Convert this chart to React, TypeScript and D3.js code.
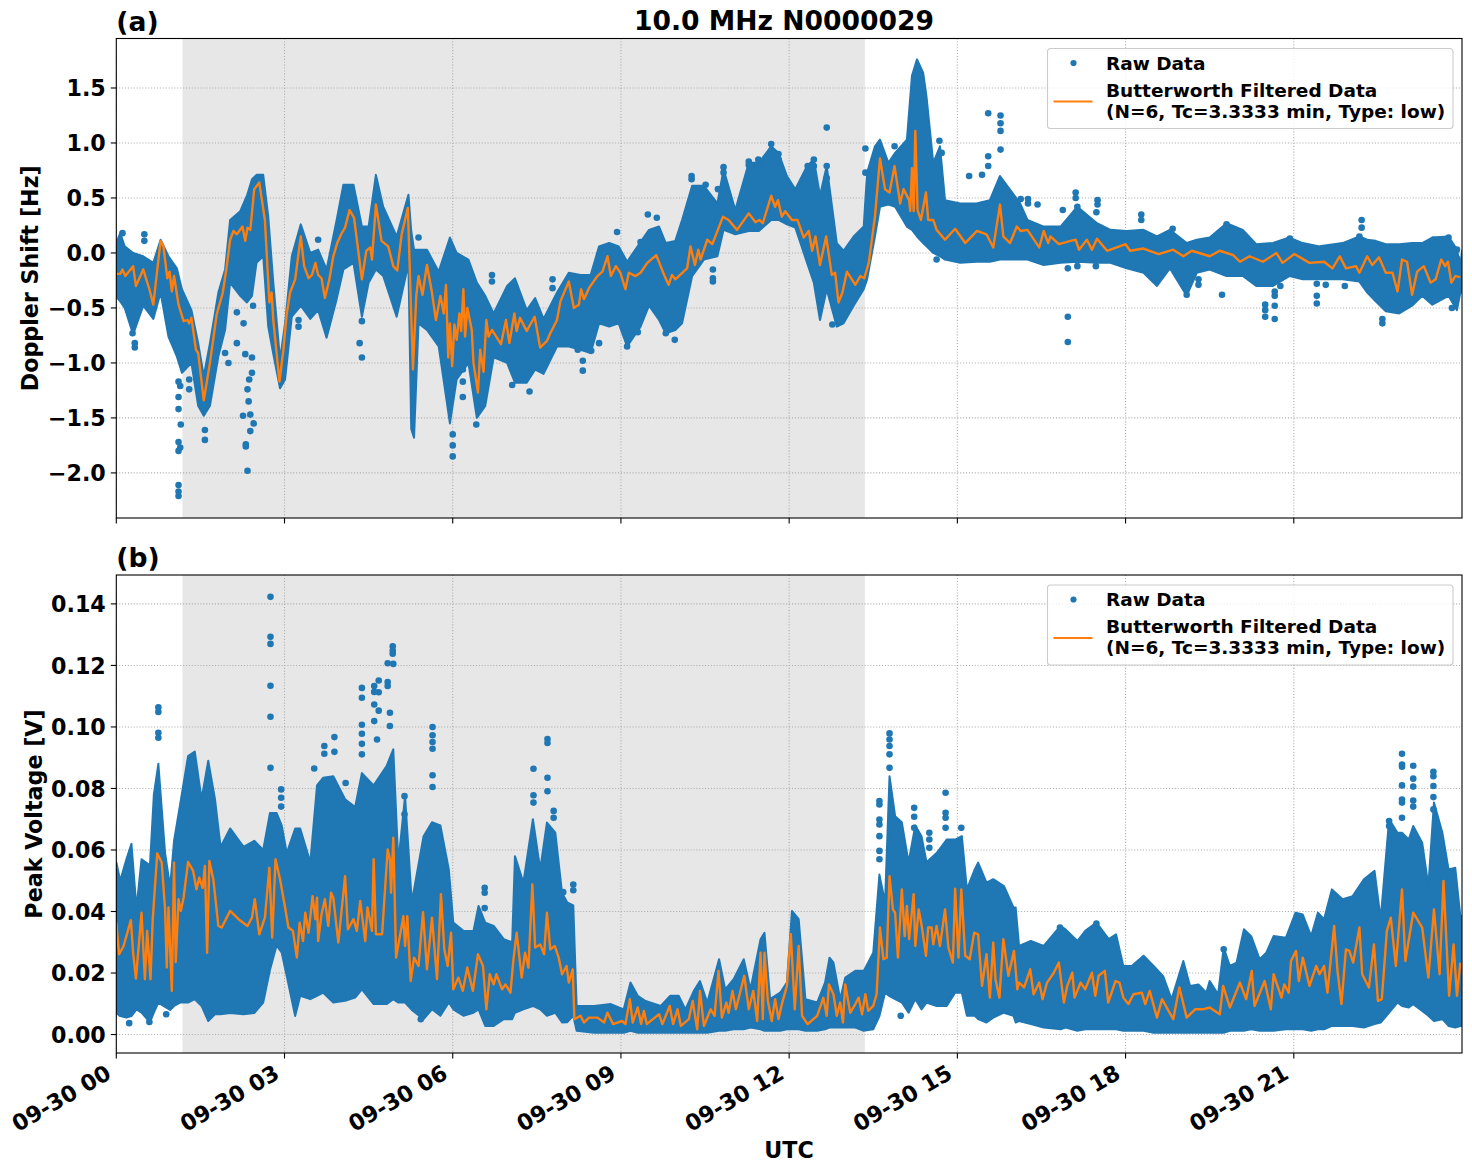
import React, { useEffect, useRef } from 'react';
import * as d3 from 'd3';

// hours since 09-30 00 UTC
const hourTicks = [0, 3, 6, 9, 12, 15, 18, 21];
const hourLabels = ['09-30 00', '09-30 03', '09-30 06', '09-30 09', '09-30 12', '09-30 15', '09-30 18', '09-30 21'];
const shadedHours = [1.18, 13.35];

const dopplerTicks = [-2, -1.5, -1, -0.5, 0, 0.5, 1, 1.5];
const voltageTicks = [0, 0.02, 0.04, 0.06, 0.08, 0.1, 0.12, 0.14];

// raw data envelope: [hour, low, high]
const dopplerBand: [number, number, number][] = [
  [0, -0.4, 0.09], [0.07, -0.44, 0.18], [0.15, -0.5, 0.06], [0.3, -0.74, 0], [0.48, -0.48, -0.03], [0.66, -0.6, -0.09],
  [0.79, -0.36, 0.12], [0.93, -0.76, -0.03], [1.08, -0.94, -0.14], [1.17, -1.09, -0.33], [1.34, -1, -0.52], [1.46, -1.39, -0.82],
  [1.56, -1.48, -1.12], [1.67, -1.39, -0.82], [1.82, -0.94, -0.36], [1.94, -0.7, -0.15], [2.03, -0.27, 0.3], [2.21, -0.39, 0.38],
  [2.33, -0.45, 0.52], [2.42, -0.39, 0.67], [2.5, -0.09, 0.71], [2.62, -0.03, 0.71], [2.71, -0.67, 0.33], [2.8, -0.92, -0.27],
  [2.92, -1.23, -0.97], [3.01, -1.15, -0.64], [3.13, -0.58, -0.03], [3.29, -0.48, 0.26], [3.46, -0.6, 0], [3.6, -0.52, 0.03],
  [3.75, -0.77, -0.15], [3.93, -0.42, 0.3], [4.05, -0.15, 0.62], [4.23, -0.09, 0.62], [4.38, -0.58, 0.24], [4.5, -0.27, 0.24],
  [4.63, -0.15, 0.71], [4.76, -0.21, 0.42], [5, -0.58, 0.15], [5.21, -0.1, 0.53], [5.26, -1.6, 0.2], [5.31, -1.68, 0.03], [5.39, -0.64, 0.03],
  [5.54, -0.7, 0.03], [5.75, -0.85, -0.17], [5.95, -1.55, 0.14], [6.07, -1.15, 0], [6.28, -1, -0.06], [6.43, -1.5, -0.27],
  [6.58, -1.39, -0.39], [6.73, -0.95, -0.55], [6.97, -1, -0.3], [7.11, -1.18, -0.23], [7.32, -1.18, -0.52], [7.47, -1.06, -0.41],
  [7.62, -1.1, -0.6], [7.86, -0.85, -0.36], [8.07, -0.85, -0.18], [8.28, -0.88, -0.2], [8.46, -0.91, -0.2], [8.61, -0.64, 0.06],
  [8.79, -0.67, 0.09], [8.96, -0.64, 0.06], [9.11, -0.85, -0.08], [9.35, -0.67, 0.1], [9.5, -0.48, 0.21], [9.68, -0.61, 0.24],
  [9.8, -0.73, 0.09], [9.97, -0.7, 0.11], [10.09, -0.64, 0.3], [10.27, -0.21, 0.61], [10.48, -0.06, 0.61], [10.72, -0.03, 0.45],
  [10.83, 0.21, 0.76], [11.04, 0.17, 0.39], [11.28, 0.2, 0.82], [11.46, 0.2, 0.82], [11.68, 0.3, 0.97], [11.81, 0.3, 0.91],
  [11.96, 0.26, 0.7], [12.11, 0.23, 0.58], [12.32, -0.09, 0.79], [12.44, -0.27, 0.85], [12.55, -0.61, 0.52], [12.67, -0.33, 0.79],
  [12.85, -0.67, 0.09], [12.97, -0.64, 0.02], [13.15, -0.48, 0.15], [13.33, -0.33, 0.24], [13.39, -0.24, 0.73], [13.53, 0.15, 0.97],
  [13.62, 0.42, 1.03], [13.77, 0.44, 0.82], [13.89, 0.42, 0.91], [14.1, 0.24, 1.03], [14.19, 0.21, 1.61], [14.28, 0.15, 1.76],
  [14.39, 0.09, 1.64], [14.45, 0.06, 1.42], [14.57, 0, 0.82], [14.69, -0.03, 0.97], [14.78, -0.06, 0.48], [15.05, -0.09, 0.45],
  [15.34, -0.08, 0.45], [15.58, -0.08, 0.48], [15.76, -0.06, 0.7], [16.12, -0.06, 0.45], [16.25, -0.06, 0.3], [16.54, -0.11, 0.24],
  [16.84, -0.09, 0.24], [17.14, -0.08, 0.42], [17.49, -0.09, 0.27], [17.73, -0.09, 0.21], [18.02, -0.14, 0.2], [18.32, -0.18, 0.21],
  [18.56, -0.3, 0.15], [18.79, -0.14, 0.21], [19.09, -0.39, 0.09], [19.27, -0.18, 0.12], [19.5, -0.15, 0.14], [19.8, -0.21, 0.27],
  [20.09, -0.21, 0.21], [20.33, -0.3, 0.08], [20.63, -0.3, 0.09], [20.92, -0.21, 0.14], [21.16, -0.24, 0.09], [21.46, -0.24, 0.06],
  [21.87, -0.24, 0.09], [22.17, -0.26, 0.15], [22.31, -0.36, 0.12], [22.46, -0.44, 0.11], [22.64, -0.53, 0.08], [22.88, -0.55, 0.08],
  [23.11, -0.48, 0.09], [23.29, -0.39, 0.09], [23.47, -0.47, 0.14], [23.76, -0.39, 0.15], [23.91, -0.52, 0.03], [23.97, -0.36, -0.12],
  [24, -0.36, 0.02],
];

// isolated raw points: [hour, value]
const dopplerOutliers: [number, number][] = [
  [1.11, -2.11], [1.11, -2.17], [1.11, -2.21], [1.11, -1.8], [1.11, -1.72], [1.11, -1.42], [1.11, -1.31], [1.11, -1.17],
  [1.14, -1.77], [1.14, -1.21], [1.15, -1.56], [2.34, -1.98], [2.31, -1.74], [2.31, -1.76], [2.26, -1.48], [2.39, -1.47],
  [2.39, -1.62], [2.45, -1.55], [1.58, -1.61], [1.58, -1.7], [2.36, -1.35], [2.34, -1.24], [2.37, -1.15], [2.42, -1.09],
  [2.42, -0.95], [2.3, -0.92], [2.15, -0.82], [1.94, -0.91], [2, -1], [1.3, -1.24], [1.3, -1.15], [4.38, -0.95], [4.34, -0.82],
  [4.38, -0.62], [6, -1.85], [6, -1.75], [6, -1.65], [6.42, -1.56], [6.18, -1.31], [6.18, -1.17], [6.18, -1.06], [7.37, -1.26],
  [7.06, -1.2], [0.5, 0.17], [0.5, 0.11], [0.11, 0.18], [0.33, -0.86], [0.33, -0.82], [0.29, -0.73], [3.6, 0.12], [5.39, 0.14],
  [3.25, -0.67], [3.25, -0.61], [6.7, -0.2], [6.7, -0.26], [7.78, -0.24], [7.78, -0.32], [2.27, -0.64], [2.15, -0.54], [2.44, -0.48],
  [12.67, 1.14], [8.32, -1.07], [8.32, -0.98], [8.23, -0.88], [8.47, -0.89], [8.61, -0.82], [9.11, -0.85], [9.96, -0.79],
  [9.8, -0.73], [9.3, -0.72], [10.64, -0.15], [10.64, -0.23], [10.64, -0.26], [8.93, 0.19], [9.48, 0.35], [9.64, 0.32], [9.35, 0.1],
  [10.26, 0.7], [10.26, 0.67], [10.83, 0.78], [10.83, 0.73], [10.51, 0.62], [10.73, 0.58], [11.28, 0.83], [11.28, 0.8],
  [11.45, 0.85], [11.45, 0.79], [11.68, 0.99], [11.68, 0.93], [11.81, 0.9], [11.81, 0.85], [12.44, 0.85], [12.44, 0.79],
  [12.33, 0.79], [12.67, 0.79], [12.67, 0.68], [15.55, 1.27], [15.77, 1.25], [15.77, 1.18], [15.77, 1.11], [15.77, 0.94],
  [15.55, 0.88], [15.55, 0.79], [15.21, 0.7], [15.44, 0.71], [14.68, 1.02], [14.72, 0.91], [13.88, 0.97], [13.36, 0.95],
  [14.63, -0.06], [12.77, -0.65], [13.36, 0.73], [16.97, -0.58], [16.97, -0.81], [16.97, -0.14], [17.11, 0.55], [17.11, 0.5],
  [17.5, 0.48], [17.5, 0.44], [16.13, 0.49], [16.26, 0.49], [16.26, 0.45], [16.43, 0.44], [16.88, 0.39], [17.14, 0.42], [17.14, 0.35],
  [17.48, 0.37], [18.28, 0.35], [18.28, 0.3], [19.8, 0.26], [19.8, 0.22], [18.84, 0.22], [19.67, 0.18], [19.72, -0.38], [19.3, -0.24],
  [19.3, -0.29], [19.09, -0.38], [20.49, -0.28], [20.49, -0.47], [20.49, -0.52], [20.49, -0.58], [20.66, -0.6], [20.66, -0.48],
  [20.66, -0.39], [20.66, -0.35], [20.76, -0.3], [21.41, -0.28], [21.41, -0.39], [21.41, -0.46], [21.57, -0.29], [21.91, -0.3],
  [22.21, 0.3], [22.21, 0.23], [22.17, 0.15], [20.93, 0.13], [22.58, -0.64], [22.58, -0.6], [23.82, -0.5], [17.14, -0.12],
  [17.47, -0.12], [23.49, 0.12], [23.91, 0.03], [23.91, -0.05], [23.76, 0.14],
];

// filtered curve: [hour, value]
const dopplerFiltered: [number, number][] = [
  [0, -0.19], [0.07, -0.19], [0.11, -0.15], [0.16, -0.21], [0.24, -0.16], [0.3, -0.12], [0.35, -0.3], [0.48, -0.15], [0.59, -0.33],
  [0.66, -0.47], [0.79, 0.11], [0.84, 0.06], [0.91, -0.23], [0.95, -0.17], [0.99, -0.35], [1.03, -0.21], [1.11, -0.47], [1.2, -0.62],
  [1.27, -0.61], [1.3, -0.64], [1.34, -0.59], [1.42, -0.88], [1.46, -0.91], [1.56, -1.34], [1.67, -1], [1.79, -0.56], [1.9, -0.36],
  [1.97, -0.12], [2.03, 0.12], [2.09, 0.2], [2.15, 0.17], [2.25, 0.24], [2.3, 0.11], [2.34, 0.23], [2.39, 0.21], [2.46, 0.58],
  [2.55, 0.64], [2.65, 0.3], [2.73, -0.45], [2.77, -0.36], [2.8, -0.61], [2.91, -1.17], [2.98, -0.88], [3.04, -0.55], [3.1, -0.36],
  [3.19, -0.24], [3.29, 0.15], [3.35, -0.12], [3.43, -0.23], [3.49, -0.2], [3.55, -0.09], [3.6, -0.2], [3.66, -0.23], [3.72, -0.41],
  [3.8, -0.24], [3.87, -0.03], [3.94, 0.09], [4.01, 0.17], [4.08, 0.23], [4.16, 0.39], [4.24, 0.32], [4.38, -0.24], [4.46, 0.02],
  [4.53, 0.05], [4.56, -0.06], [4.63, 0.44], [4.73, 0.11], [4.85, 0.06], [4.94, -0.12], [5.01, -0.16], [5.09, 0.17], [5.2, 0.41],
  [5.29, -1.06], [5.35, -0.39], [5.39, -0.21], [5.46, -0.38], [5.54, -0.11], [5.63, -0.36], [5.7, -0.61], [5.78, -0.39], [5.84, -0.55],
  [5.88, -0.29], [5.92, -0.95], [5.95, -0.64], [5.99, -1.03], [6.03, -0.65], [6.07, -0.79], [6.12, -0.55], [6.15, -0.71], [6.19, -0.33],
  [6.22, -0.76], [6.26, -0.5], [6.34, -0.7], [6.37, -1], [6.45, -1.27], [6.49, -0.88], [6.55, -1.08], [6.6, -0.61], [6.64, -0.76],
  [6.7, -0.7], [6.86, -0.83], [6.95, -0.61], [7.01, -0.82], [7.1, -0.55], [7.14, -0.71], [7.2, -0.59], [7.32, -0.71], [7.46, -0.58],
  [7.56, -0.86], [7.68, -0.8], [7.74, -0.73], [7.86, -0.61], [7.92, -0.44], [8.07, -0.26], [8.16, -0.5], [8.25, -0.47], [8.29, -0.33],
  [8.34, -0.42], [8.43, -0.32], [8.58, -0.21], [8.67, -0.17], [8.76, -0.03], [8.82, -0.21], [8.91, -0.12], [8.99, -0.18], [9.08, -0.33],
  [9.14, -0.18], [9.26, -0.21], [9.35, -0.18], [9.47, -0.09], [9.63, -0.02], [9.77, -0.2], [9.85, -0.29], [9.91, -0.2], [9.97, -0.24],
  [10.18, -0.14], [10.24, 0.06], [10.32, -0.11], [10.38, 0.03], [10.42, -0.06], [10.54, 0.12], [10.63, 0.08], [10.82, 0.33], [10.92, 0.3],
  [11.07, 0.21], [11.28, 0.36], [11.4, 0.28], [11.47, 0.3], [11.53, 0.27], [11.68, 0.52], [11.75, 0.42], [11.8, 0.48], [11.87, 0.33],
  [11.93, 0.38], [12.05, 0.3], [12.15, 0.3], [12.26, 0.14], [12.35, 0.2], [12.41, 0.02], [12.47, 0.15], [12.55, -0.11], [12.66, 0.15],
  [12.76, -0.2], [12.82, -0.18], [12.88, -0.45], [12.95, -0.36], [13.03, -0.17], [13.18, -0.29], [13.27, -0.21], [13.34, -0.23],
  [13.42, -0.09], [13.53, 0.33], [13.62, 0.86], [13.71, 0.58], [13.79, 0.55], [13.88, 0.79], [13.98, 0.45], [14.04, 0.58], [14.14, 0.48],
  [14.16, 0.38], [14.19, 0.77], [14.22, 0.38], [14.25, 1.11], [14.29, 0.39], [14.35, 0.3], [14.44, 0.55], [14.48, 0.3], [14.57, 0.3],
  [14.63, 0.21], [14.78, 0.12], [14.96, 0.22], [15.14, 0.09], [15.35, 0.2], [15.52, 0.17], [15.64, 0.05], [15.76, 0.44], [15.82, 0.15],
  [15.94, 0.09], [16.06, 0.24], [16.13, 0.2], [16.25, 0.21], [16.46, 0.05], [16.54, 0.2], [16.62, 0.09], [16.66, 0.15], [16.81, 0.08],
  [17.02, 0.11], [17.11, 0.12], [17.17, 0.03], [17.31, 0.12], [17.4, 0.03], [17.49, 0.13], [17.67, 0.02], [18, 0.08], [18.08, 0.02],
  [18.32, 0.04], [18.59, -0.01], [18.85, 0.03], [19.03, -0.03], [19.18, 0.02], [19.5, -0.03], [19.68, 0.02], [19.92, -0.02], [20.04, -0.08],
  [20.21, -0.03], [20.45, -0.08], [20.69, 0], [20.8, -0.09], [21.01, -0.01], [21.28, -0.09], [21.54, -0.08], [21.69, -0.14], [21.82, -0.03],
  [21.93, -0.14], [22.11, -0.12], [22.17, -0.18], [22.31, -0.03], [22.4, -0.11], [22.52, -0.04], [22.64, -0.18], [22.76, -0.18],
  [22.85, -0.35], [22.93, -0.06], [23.02, -0.08], [23.11, -0.38], [23.2, -0.17], [23.32, -0.12], [23.44, -0.27], [23.53, -0.24],
  [23.63, -0.06], [23.7, -0.12], [23.75, -0.08], [23.81, -0.27], [23.88, -0.21], [23.97, -0.22],
];

const voltageBand: [number, number, number][] = [
  [0, 0.007, 0.056], [0.07, 0.006, 0.05], [0.18, 0.0055, 0.057], [0.27, 0.006, 0.062], [0.36, 0.0082, 0.041], [0.45, 0.0071, 0.057],
  [0.6, 0.004, 0.055], [0.67, 0.0071, 0.078], [0.75, 0.0104, 0.088], [0.87, 0.009, 0.059], [0.96, 0.008, 0.048], [1.03, 0.0093, 0.063],
  [1.14, 0.0104, 0.075], [1.28, 0.0104, 0.0905], [1.4, 0.0115, 0.092], [1.52, 0.0093, 0.0765], [1.64, 0.0044, 0.089], [1.76, 0.0066, 0.0765],
  [1.86, 0.0066, 0.061], [2.03, 0.007, 0.067], [2.27, 0.0066, 0.061], [2.46, 0.007, 0.063], [2.62, 0.0104, 0.06], [2.74, 0.021, 0.072],
  [2.86, 0.029, 0.072], [2.95, 0.0266, 0.068], [3.04, 0.019, 0.059], [3.19, 0.006, 0.067], [3.28, 0.0126, 0.067], [3.46, 0.0115, 0.056],
  [3.58, 0.0126, 0.081], [3.69, 0.0136, 0.0835], [3.87, 0.0104, 0.084], [4.08, 0.011, 0.0765], [4.26, 0.012, 0.074], [4.38, 0.0147, 0.085],
  [4.59, 0.0099, 0.081], [4.82, 0.0099, 0.0873], [4.94, 0.0115, 0.0927], [5.03, 0.0104, 0.056], [5.15, 0.0104, 0.0775], [5.27, 0.008, 0.043],
  [5.48, 0.005, 0.0645], [5.63, 0.0082, 0.069], [5.78, 0.0061, 0.068], [5.93, 0.0104, 0.0537], [6.01, 0.0082, 0.0364], [6.19, 0.0061, 0.0337],
  [6.37, 0.0071, 0.0337], [6.46, 0.0082, 0.0418], [6.58, 0.0028, 0.0364], [6.73, 0.0028, 0.0353], [6.91, 0.005, 0.031], [7.06, 0.005, 0.03],
  [7.11, 0.0071, 0.058], [7.26, 0.0082, 0.0494], [7.43, 0.0093, 0.07], [7.56, 0.0082, 0.0537], [7.68, 0.0061, 0.0689], [7.83, 0.0071, 0.0656],
  [7.95, 0.0039, 0.046], [8.04, 0.004, 0.043], [8.15, 0.0061, 0.042], [8.21, 0.0012, 0.0093], [8.52, 0.0006, 0.0093], [8.82, 0.0006, 0.0099],
  [9.05, 0.0006, 0.0082], [9.17, 0.0012, 0.0169], [9.3, 0.0006, 0.0126], [9.44, 0.0006, 0.0109], [9.71, 0.0006, 0.0093], [9.88, 0.0006, 0.0126],
  [10.03, 0.0006, 0.0126], [10.15, 0.0006, 0.0082], [10.3, 0.0006, 0.0142], [10.41, 0.0006, 0.0174], [10.54, 0.0006, 0.0104], [10.75, 0.0012, 0.0245],
  [10.86, 0.0012, 0.0147], [11.01, 0.0017, 0.018], [11.19, 0.0017, 0.0245], [11.31, 0.0023, 0.0147], [11.49, 0.0017, 0.031], [11.56, 0.0012, 0.0331],
  [11.66, 0.0012, 0.0115], [11.84, 0.0012, 0.0136], [11.96, 0.0017, 0.0169], [12.05, 0.0017, 0.0402], [12.17, 0.0017, 0.0375], [12.29, 0.0012, 0.0115],
  [12.5, 0.0012, 0.0104], [12.64, 0.0017, 0.0169], [12.72, 0.0023, 0.025], [12.79, 0.0023, 0.0234], [12.91, 0.0023, 0.0115], [13, 0.0023, 0.0185],
  [13.18, 0.0023, 0.0207], [13.33, 0.0012, 0.0207], [13.5, 0.0017, 0.0266], [13.61, 0.006, 0.052], [13.71, 0.0136, 0.043], [13.79, 0.0125, 0.084],
  [13.89, 0.0115, 0.071], [14.01, 0.0104, 0.069], [14.13, 0.0071, 0.056], [14.25, 0.0115, 0.068], [14.36, 0.0082, 0.0645], [14.45, 0.0104, 0.056],
  [14.63, 0.0093, 0.059], [14.81, 0.0093, 0.0634], [14.96, 0.0136, 0.0634], [15.08, 0.0136, 0.0645], [15.17, 0.0061, 0.0472], [15.31, 0.0061, 0.0537],
  [15.37, 0.005, 0.0559], [15.52, 0.0039, 0.0494], [15.64, 0.0055, 0.0505], [15.83, 0.0071, 0.0483], [16, 0.0061, 0.0413], [16.04, 0.0039, 0.0413],
  [16.1, 0.0044, 0.0288], [16.31, 0.0034, 0.0304], [16.54, 0.0023, 0.0288], [16.84, 0.0017, 0.0353], [16.93, 0.0023, 0.0342], [17.14, 0.0012, 0.0304],
  [17.28, 0.0017, 0.0337], [17.48, 0.0017, 0.0364], [17.7, 0.0017, 0.031], [17.83, 0.0017, 0.0326], [17.96, 0.0012, 0.0223], [18.11, 0.0012, 0.0223],
  [18.32, 0.0012, 0.0256], [18.5, 0.0006, 0.0223], [18.67, 0.0006, 0.019], [18.82, 0.0006, 0.0115], [19.03, 0.0006, 0.0239], [19.15, 0.0006, 0.0158],
  [19.3, 0.0006, 0.0163], [19.44, 0.0006, 0.0136], [19.5, 0.0006, 0.0174], [19.65, 0.0006, 0.0131], [19.75, 0.0006, 0.0283], [19.86, 0.0012, 0.0223],
  [19.98, 0.0012, 0.0234], [20.11, 0.0012, 0.0342], [20.24, 0.0017, 0.032], [20.39, 0.0012, 0.0245], [20.51, 0.0012, 0.0266], [20.64, 0.0012, 0.032],
  [20.86, 0.0017, 0.0315], [21.03, 0.0017, 0.0396], [21.16, 0.0017, 0.039], [21.31, 0.0012, 0.032], [21.43, 0.0017, 0.0396], [21.54, 0.0017, 0.0375],
  [21.68, 0.0028, 0.0472], [21.87, 0.0028, 0.044], [22.05, 0.0028, 0.045], [22.25, 0.0023, 0.0505], [22.44, 0.0034, 0.0532], [22.55, 0.0039, 0.0375],
  [22.7, 0.0071, 0.07], [22.85, 0.0104, 0.0656], [22.93, 0.0093, 0.0656], [23.05, 0.0088, 0.0634], [23.13, 0.0099, 0.0678], [23.29, 0.0077, 0.0624],
  [23.4, 0.0061, 0.0483], [23.5, 0.0044, 0.0754], [23.65, 0.005, 0.0656], [23.76, 0.0028, 0.0537], [23.88, 0.0023, 0.0542], [23.97, 0.0028, 0.0385],
  [24, 0.0028, 0.0385],
];

const voltageOutliers: [number, number][] = [
  [0.75, 0.1064], [0.75, 0.1049], [0.75, 0.0981], [0.75, 0.0965], [2.75, 0.1423], [2.75, 0.1293], [2.75, 0.127], [2.75, 0.1134], [2.75, 0.1033],
  [2.75, 0.0867], [2.94, 0.0797], [2.94, 0.077], [2.94, 0.0741], [4.93, 0.1262], [4.93, 0.1248], [4.93, 0.1238], [4.94, 0.1205], [4.84, 0.1207],
  [4.84, 0.1146], [4.84, 0.1133], [4.68, 0.1151], [4.68, 0.1113], [4.68, 0.1053], [4.6, 0.1133], [4.6, 0.1114], [4.6, 0.1073], [4.6, 0.1019],
  [4.38, 0.1127], [4.38, 0.1095], [4.38, 0.1007], [4.38, 0.0978], [4.38, 0.0945], [4.38, 0.0911], [3.71, 0.0938], [3.71, 0.0913], [3.89, 0.0967],
  [3.89, 0.0919], [3.53, 0.0865], [4.09, 0.0818], [5.64, 0.1], [5.64, 0.0973], [5.64, 0.0951], [5.64, 0.0929], [5.64, 0.0843], [5.64, 0.0805],
  [5.14, 0.0775], [5.14, 0.0716], [7.69, 0.0961], [7.69, 0.0948], [7.69, 0.0835], [7.69, 0.0791], [7.44, 0.0864], [7.44, 0.0778], [7.44, 0.0754],
  [6.57, 0.0477], [6.57, 0.0461], [6.57, 0.0411], [5.43, 0.005], [0.23, 0.0037], [0.59, 0.0041], [0.89, 0.0066], [4.88, 0.1046], [4.88, 0.1003],
  [4.65, 0.0959], [7.8, 0.0727], [7.8, 0.0705], [7.97, 0.0463], [7.97, 0.0434], [8.15, 0.0488], [8.15, 0.0469], [13.79, 0.0979], [13.79, 0.0959],
  [13.79, 0.0938], [13.79, 0.0911], [13.79, 0.0867], [13.61, 0.0759], [13.61, 0.0748], [13.61, 0.0699], [13.61, 0.0683], [13.61, 0.0645],
  [13.61, 0.0597], [13.61, 0.057], [14.23, 0.0737], [14.23, 0.0708], [14.23, 0.0672], [14.79, 0.0786], [14.79, 0.0721], [14.79, 0.0705],
  [14.79, 0.0672], [15.07, 0.0672], [14.5, 0.0656], [14.5, 0.0634], [14.5, 0.0607], [13.99, 0.0061], [22.93, 0.0913], [22.93, 0.0878],
  [22.93, 0.0871], [22.93, 0.081], [22.93, 0.0764], [22.93, 0.0754], [22.93, 0.0705], [23.13, 0.0874], [23.13, 0.0832], [23.13, 0.0806],
  [23.13, 0.0761], [23.13, 0.0741], [23.49, 0.0854], [23.49, 0.084], [23.49, 0.0808], [23.49, 0.0772], [23.49, 0.0732], [22.7, 0.0694],
  [22.7, 0.0678], [17.48, 0.0361], [17.48, 0.0339], [16.83, 0.0348], [19.75, 0.0277],
];

const voltageFiltered: [number, number][] = [
  [0, 0.0364], [0.05, 0.0261], [0.13, 0.0288], [0.18, 0.032], [0.26, 0.0372], [0.3, 0.0266], [0.35, 0.0182], [0.45, 0.0396], [0.51, 0.018],
  [0.55, 0.0337], [0.61, 0.018], [0.65, 0.0375], [0.73, 0.0589], [0.81, 0.0559], [0.87, 0.0407], [0.9, 0.0218], [0.93, 0.0413], [0.99, 0.0142],
  [1.03, 0.0559], [1.06, 0.0236], [1.11, 0.044], [1.15, 0.0402], [1.2, 0.0445], [1.28, 0.0561], [1.37, 0.0532], [1.43, 0.0472], [1.48, 0.051],
  [1.54, 0.0477], [1.58, 0.0548], [1.62, 0.0266], [1.66, 0.0564], [1.73, 0.0505], [1.82, 0.0353], [1.88, 0.0348], [2.03, 0.0402], [2.18, 0.0375],
  [2.34, 0.0353], [2.42, 0.038], [2.47, 0.044], [2.55, 0.0326], [2.65, 0.038], [2.73, 0.0542], [2.78, 0.0315], [2.84, 0.057], [2.92, 0.0505],
  [3.01, 0.0413], [3.07, 0.0348], [3.15, 0.0337], [3.22, 0.025], [3.27, 0.0364], [3.33, 0.0304], [3.37, 0.0396], [3.43, 0.0331], [3.5, 0.045],
  [3.55, 0.0375], [3.58, 0.0445], [3.6, 0.0304], [3.66, 0.0391], [3.72, 0.044], [3.78, 0.0353], [3.83, 0.0461], [3.87, 0.0445], [3.96, 0.0299],
  [4.08, 0.0515], [4.13, 0.0342], [4.23, 0.0375], [4.29, 0.0337], [4.35, 0.0434], [4.44, 0.0304], [4.48, 0.0413], [4.56, 0.0337], [4.59, 0.057],
  [4.63, 0.0326], [4.74, 0.0326], [4.84, 0.0602], [4.88, 0.057], [4.9, 0.0461], [4.94, 0.064], [4.99, 0.025], [5.12, 0.0385], [5.15, 0.0288],
  [5.19, 0.0385], [5.25, 0.0174], [5.31, 0.025], [5.39, 0.0223], [5.47, 0.0398], [5.54, 0.0212], [5.63, 0.038], [5.72, 0.018], [5.79, 0.0456],
  [5.85, 0.0277], [5.91, 0.0223], [5.97, 0.0331], [6.01, 0.0147], [6.1, 0.0185], [6.18, 0.0142], [6.26, 0.0218], [6.36, 0.0142], [6.45, 0.0261],
  [6.54, 0.0223], [6.6, 0.0082], [6.66, 0.0196], [6.73, 0.0163], [6.78, 0.0196], [6.88, 0.0147], [6.94, 0.0163], [7.03, 0.0136], [7.08, 0.0239],
  [7.14, 0.0331], [7.23, 0.0185], [7.29, 0.0266], [7.35, 0.0218], [7.42, 0.0488], [7.47, 0.0283], [7.56, 0.0293], [7.63, 0.0261], [7.68, 0.0396],
  [7.74, 0.0277], [7.82, 0.0288], [7.89, 0.025], [7.95, 0.0196], [8.03, 0.0223], [8.07, 0.0169], [8.14, 0.0212], [8.17, 0.005], [8.28, 0.0061],
  [8.34, 0.0039], [8.43, 0.0055], [8.58, 0.0055], [8.7, 0.0039], [8.76, 0.0071], [8.86, 0.0034], [9.02, 0.0044], [9.08, 0.0034], [9.16, 0.0115],
  [9.21, 0.0039], [9.3, 0.0088], [9.36, 0.0034], [9.41, 0.0077], [9.46, 0.0034], [9.68, 0.0066], [9.74, 0.0034], [9.87, 0.0093], [9.93, 0.0034],
  [10.01, 0.0082], [10.07, 0.0028], [10.21, 0.005], [10.28, 0.0109], [10.36, 0.0017], [10.41, 0.0142], [10.48, 0.0028], [10.6, 0.0082], [10.67, 0.0061],
  [10.74, 0.0207], [10.8, 0.0055], [10.88, 0.0104], [10.92, 0.0071], [10.99, 0.0142], [11.05, 0.0082], [11.2, 0.0191], [11.28, 0.0082], [11.36, 0.0142],
  [11.43, 0.0044], [11.49, 0.0266], [11.53, 0.005], [11.56, 0.0266], [11.62, 0.0109], [11.69, 0.0044], [11.75, 0.0115], [11.81, 0.005], [11.87, 0.0099],
  [11.96, 0.0158], [12.03, 0.0326], [12.1, 0.0082], [12.17, 0.0288], [12.23, 0.0061], [12.33, 0.0034], [12.5, 0.0061], [12.61, 0.012], [12.67, 0.0061],
  [12.71, 0.0163], [12.79, 0.0131], [12.85, 0.0061], [12.91, 0.0104], [12.96, 0.0039], [13, 0.0163], [13.09, 0.0071], [13.18, 0.0099], [13.24, 0.012],
  [13.3, 0.0066], [13.36, 0.0131], [13.41, 0.0077], [13.5, 0.0093], [13.56, 0.0131], [13.62, 0.0348], [13.68, 0.0245], [13.74, 0.025], [13.79, 0.0515],
  [13.85, 0.0407], [13.89, 0.0396], [13.94, 0.025], [14.01, 0.0472], [14.06, 0.032], [14.1, 0.0418], [14.14, 0.031], [14.22, 0.0456], [14.25, 0.0288],
  [14.31, 0.0407], [14.36, 0.0358], [14.44, 0.0256], [14.48, 0.0348], [14.54, 0.0348], [14.57, 0.0293], [14.63, 0.0353], [14.69, 0.0288], [14.78, 0.0407],
  [14.84, 0.0283], [14.92, 0.0234], [14.96, 0.0474], [15.02, 0.025], [15.07, 0.0472], [15.14, 0.0256], [15.22, 0.0245], [15.3, 0.0331], [15.37, 0.0326],
  [15.44, 0.0158], [15.52, 0.0261], [15.58, 0.012], [15.64, 0.0299], [15.68, 0.018], [15.75, 0.012], [15.82, 0.031], [15.91, 0.0191], [16.01, 0.0272],
  [16.07, 0.0147], [16.1, 0.0169], [16.19, 0.0153], [16.3, 0.0212], [16.36, 0.0131], [16.46, 0.0169], [16.52, 0.0115], [16.6, 0.0169], [16.72, 0.0201],
  [16.81, 0.0234], [16.9, 0.0104], [16.96, 0.0158], [17.05, 0.0201], [17.09, 0.012], [17.2, 0.0169], [17.28, 0.0147], [17.4, 0.0201], [17.46, 0.0126],
  [17.52, 0.0191], [17.63, 0.0207], [17.69, 0.0104], [17.82, 0.0174], [17.89, 0.0169], [17.96, 0.012], [18.05, 0.0099], [18.14, 0.0131], [18.29, 0.0136],
  [18.35, 0.0099], [18.43, 0.0142], [18.56, 0.0055], [18.65, 0.0115], [18.85, 0.005], [18.96, 0.0153], [19.09, 0.0055], [19.24, 0.0082], [19.38, 0.0082],
  [19.5, 0.0088], [19.68, 0.0066], [19.74, 0.0158], [19.86, 0.0088], [20.04, 0.0169], [20.15, 0.0115], [20.25, 0.0207], [20.3, 0.0093], [20.48, 0.0174],
  [20.59, 0.0082], [20.64, 0.0196], [20.78, 0.012], [20.83, 0.0163], [20.91, 0.0136], [20.95, 0.0239], [21.04, 0.0272], [21.09, 0.0174], [21.16, 0.025],
  [21.28, 0.0158], [21.4, 0.0223], [21.46, 0.0196], [21.54, 0.0223], [21.6, 0.0136], [21.72, 0.0353], [21.78, 0.0207], [21.85, 0.0099], [21.93, 0.0277],
  [21.99, 0.0272], [22.06, 0.0234], [22.17, 0.0348], [22.22, 0.0196], [22.34, 0.0153], [22.43, 0.0293], [22.5, 0.0109], [22.57, 0.0115], [22.66, 0.0337],
  [22.73, 0.038], [22.82, 0.0223], [22.93, 0.0472], [22.99, 0.0239], [23.13, 0.0396], [23.29, 0.0348], [23.4, 0.0185], [23.5, 0.0407], [23.6, 0.0196],
  [23.67, 0.0499], [23.77, 0.0126], [23.85, 0.0293], [23.91, 0.0126], [23.97, 0.0234],
];

const BLUE = '#1f77b4';
const ORANGE = '#ff7f0e';
const FONT = '"DejaVu Sans", sans-serif';
const WIDTH = 1472;
const HEIGHT = 1172;
const LEFT = 116.3;
const RIGHT = 1462;

interface PanelOptions {
  id: string;
  top: number;
  bottom: number;
  domain: [number, number];
  ticks: number[];
  format: (d: number) => string;
  band: [number, number, number][];
  outliers: [number, number][];
  filtered: [number, number][];
  tag: string;
  yLabel: string;
  yLabelX: number;
  showXLabels: boolean;
}

function drawPanel(svg: d3.Selection<SVGSVGElement, unknown, null, undefined>, o: PanelOptions) {
  const x = d3.scaleLinear().domain([0, 24]).range([LEFT, RIGHT]);
  const y = d3.scaleLinear().domain(o.domain).range([o.bottom, o.top]);

  svg.append('clipPath').attr('id', o.id)
    .append('rect')
    .attr('x', LEFT).attr('y', o.top)
    .attr('width', RIGHT - LEFT).attr('height', o.bottom - o.top);

  const plot = svg.append('g').attr('clip-path', `url(#${o.id})`);

  // night shading
  plot.append('rect')
    .attr('x', x(shadedHours[0])).attr('y', o.top)
    .attr('width', x(shadedHours[1]) - x(shadedHours[0]))
    .attr('height', o.bottom - o.top)
    .attr('fill', '#e7e7e7');

  // grid
  const grid = plot.append('g')
    .attr('stroke', '#b0b0b0').attr('stroke-width', 1.1).attr('stroke-dasharray', '1.1,1.8');
  hourTicks.forEach(h => {
    grid.append('line').attr('x1', x(h)).attr('x2', x(h)).attr('y1', o.top).attr('y2', o.bottom);
  });
  o.ticks.forEach(t => {
    grid.append('line').attr('x1', LEFT).attr('x2', RIGHT).attr('y1', y(t)).attr('y2', y(t));
  });

  // raw data, the dense part as a band between the edges
  const bandArea = d3.area<[number, number, number]>()
    .x(d => x(d[0]))
    .y0(d => y(d[1]))
    .y1(d => y(d[2]));
  plot.append('path')
    .attr('d', bandArea(o.band))
    .attr('fill', BLUE)
    .attr('stroke', BLUE)
    .attr('stroke-width', 2)
    .attr('stroke-linejoin', 'round');

  plot.append('g').attr('fill', BLUE)
    .selectAll('circle')
    .data(o.outliers)
    .join('circle')
    .attr('cx', d => x(d[0]))
    .attr('cy', d => y(d[1]))
    .attr('r', 3.3);

  const line = d3.line<[number, number]>().x(d => x(d[0])).y(d => y(d[1]));
  plot.append('path')
    .attr('d', line(o.filtered))
    .attr('fill', 'none')
    .attr('stroke', ORANGE)
    .attr('stroke-width', 2.4)
    .attr('stroke-linejoin', 'round');

  // axes
  const xAxis = svg.append('g')
    .attr('transform', `translate(0,${o.bottom})`)
    .call(d3.axisBottom(x).tickValues(hourTicks).tickSize(5.5).offset(0).tickFormat(() => ''));
  const yAxis = svg.append('g')
    .attr('transform', `translate(${LEFT},0)`)
    .call(d3.axisLeft(y).tickValues(o.ticks).tickSize(5.5).offset(0).tickPadding(5).tickFormat(d => o.format(+d)));
  [xAxis, yAxis].forEach(a => {
    a.select('.domain').remove();
    a.selectAll('line').attr('stroke', '#000').attr('stroke-width', 1.1);
  });
  yAxis.selectAll('text')
    .attr('fill', '#000')
    .attr('dy', '0.37em')
    .style('font', `bold 22.2px ${FONT}`);

  svg.append('rect')
    .attr('x', LEFT).attr('y', o.top)
    .attr('width', RIGHT - LEFT).attr('height', o.bottom - o.top)
    .attr('fill', 'none').attr('stroke', '#000').attr('stroke-width', 1.1);

  if (o.showXLabels) {
    svg.append('g').selectAll('text')
      .data(hourTicks)
      .join('text')
      .attr('transform', h => `translate(${x(h) - 12},${o.bottom + 10}) rotate(-30)`)
      .attr('text-anchor', 'end')
      .attr('dominant-baseline', 'hanging')
      .style('font', `bold 22.2px ${FONT}`)
      .text((_, i) => hourLabels[i]);
  }

  svg.append('text')
    .attr('x', LEFT).attr('y', o.top - 8)
    .style('font', `bold 26.6px ${FONT}`)
    .text(o.tag);

  svg.append('text')
    .attr('transform', `translate(${o.yLabelX},${(o.top + o.bottom) / 2}) rotate(-90)`)
    .attr('text-anchor', 'middle')
    .style('font', `bold 22.2px ${FONT}`)
    .text(o.yLabel);

  // legend
  const lg = svg.append('g').attr('transform', `translate(1047.5,${o.top + 10})`);
  lg.append('rect')
    .attr('width', 405.5).attr('height', 80).attr('rx', 3)
    .attr('fill', '#fff').attr('fill-opacity', 0.8)
    .attr('stroke', '#ccc').attr('stroke-width', 1.1);
  lg.append('circle').attr('cx', 26).attr('cy', 14.5).attr('r', 3.1).attr('fill', BLUE);
  lg.append('line').attr('x1', 6).attr('x2', 45).attr('y1', 53).attr('y2', 53)
    .attr('stroke', ORANGE).attr('stroke-width', 2.1);
  const legendText = lg.append('g').style('font', `bold 18.5px ${FONT}`);
  legendText.append('text').attr('x', 58.5).attr('y', 21).text('Raw Data');
  legendText.append('text').attr('x', 58.5).attr('y', 48).text('Butterworth Filtered Data');
  legendText.append('text').attr('x', 58.5).attr('y', 69).text('(N=6, Tc=3.3333 min, Type: low)');
}

const App: React.FC = () => {
  const svgRef = useRef<SVGSVGElement | null>(null);

  useEffect(() => {
    const svg = d3.select(svgRef.current!);
    svg.selectAll('*').remove();

    drawPanel(svg, {
      id: 'clip-a',
      top: 38.5,
      bottom: 518,
      domain: [-2.41, 1.95],
      ticks: dopplerTicks,
      format: d => d3.format('.1f')(d).replace('-', '\u2212'),
      band: dopplerBand,
      outliers: dopplerOutliers,
      filtered: dopplerFiltered,
      tag: '(a)',
      yLabel: 'Doppler Shift [Hz]',
      yLabelX: 38,
      showXLabels: false,
    });

    drawPanel(svg, {
      id: 'clip-b',
      top: 575,
      bottom: 1053,
      domain: [-0.006, 0.1494],
      ticks: voltageTicks,
      format: d => d3.format('.2f')(d),
      band: voltageBand,
      outliers: voltageOutliers,
      filtered: voltageFiltered,
      tag: '(b)',
      yLabel: 'Peak Voltage [V]',
      yLabelX: 42,
      showXLabels: true,
    });

    svg.append('text')
      .attr('x', 784).attr('y', 30)
      .attr('text-anchor', 'middle')
      .style('font', `bold 26.6px ${FONT}`)
      .text('10.0 MHz N0000029');

    svg.append('text')
      .attr('x', 789).attr('y', 1158)
      .attr('text-anchor', 'middle')
      .style('font', `bold 22.2px ${FONT}`)
      .text('UTC');
  }, []);

  return (
    <svg
      ref={svgRef}
      width={WIDTH}
      height={HEIGHT}
      style={{ position: 'absolute', left: 0, top: 0, background: '#fff' }}
    />
  );
};

export default App;
